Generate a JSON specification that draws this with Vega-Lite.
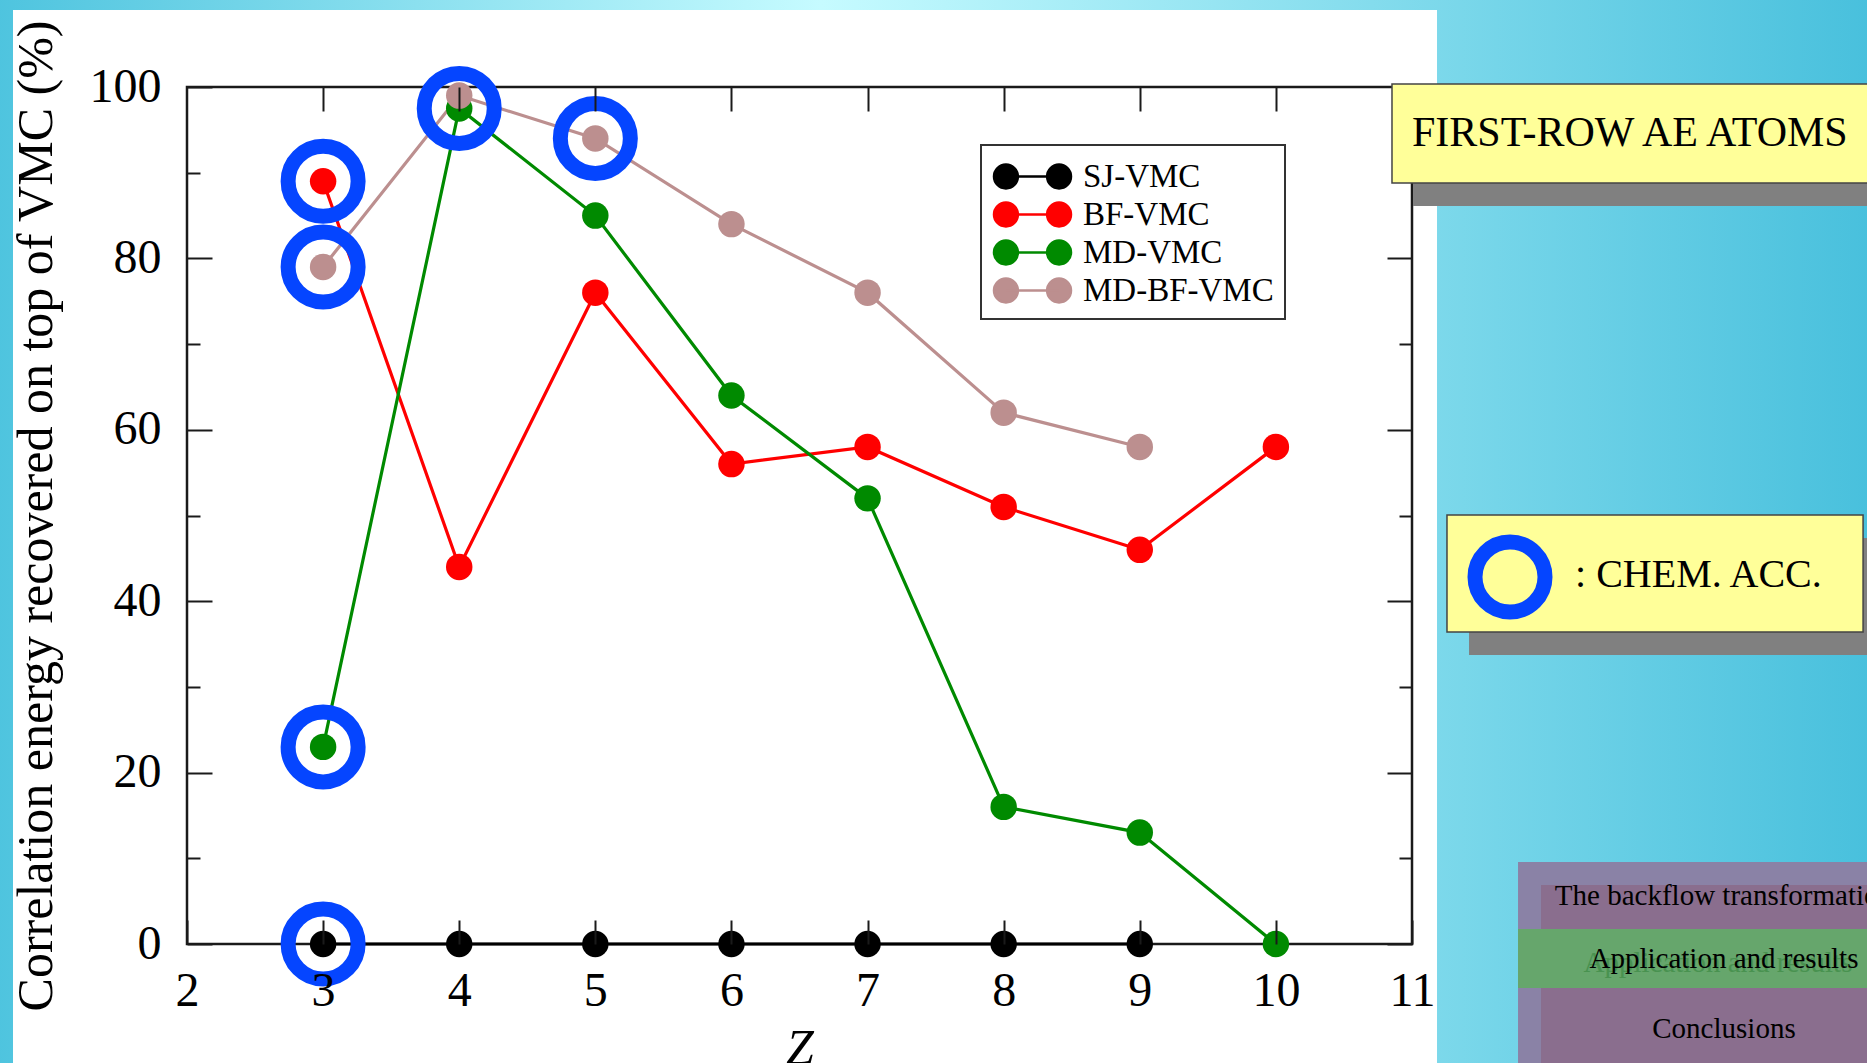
{
  "$schema": "https://vega.github.io/schema/vega-lite/v6.json",
  "width": 1225,
  "height": 857,
  "autosize": {"type": "none"},
  "padding": {"left": 187, "top": 87, "right": 455, "bottom": 119},
  "background": "#7fdcee",
  "config": {
    "view": {"stroke": null},
    "font": "Liberation Serif",
    "legend": {
      "orient": "none",
      "legendX": 794,
      "legendY": 58,
      "title": null,
      "strokeColor": "#333333",
      "fillColor": "#ffffff",
      "padding": 11,
      "labelFont": "Liberation Serif",
      "labelFontSize": 33,
      "labelColor": "#000000",
      "labelOffset": 30,
      "labelLimit": 400,
      "rowPadding": -8,
      "symbolOffset": 20,
      "symbolType": "M-2,0A0.62,0.62,0,1,1,-0.76,0A0.62,0.62,0,1,1,-2,0ZM0.76,0A0.62,0.62,0,1,1,2,0A0.62,0.62,0,1,1,0.76,0ZM-1.38,0L1.38,0",
      "symbolSize": 1482,
      "symbolStrokeWidth": 2.5
    }
  },
  "resolve": {"axis": {"x": "independent", "y": "independent"}},
  "layer": [
    {
      "data": {"values": [{}]},
      "mark": {"type": "rect", "fill": {"gradient": "linear", "x1": 0, "y1": 0, "x2": 1, "y2": 0, "stops": [{"offset": 0, "color": "#4cc3de"}, {"offset": 0.44, "color": "#c6fbff"}, {"offset": 1, "color": "#46bfdc"}]}},
      "encoding": {
        "x": {"datum": 0.5, "type": "quantitative", "scale": {"domain": [2, 11], "nice": false, "zero": false}, "axis": null},
        "x2": {"datum": 14.5},
        "y": {"datum": -16, "type": "quantitative", "scale": {"domain": [0, 100], "nice": false}, "axis": null},
        "y2": {"datum": 112}
      }
    },
    {
      "data": {"values": [{}]},
      "mark": {"type": "rect", "fill": "#ffffff"},
      "encoding": {
        "x": {"datum": 0.7216, "type": "quantitative", "axis": null},
        "x2": {"datum": 11.1838},
        "y": {"datum": -16, "type": "quantitative", "axis": null},
        "y2": {"datum": 108.99}
      }
    },
    {
      "data": {"values": [{}]},
      "mark": {"type": "rect", "filled": false, "stroke": "#1a1a1a", "strokeWidth": 2.5},
      "encoding": {
        "x": {"datum": 2, "type": "quantitative", "axis": null},
        "x2": {"datum": 11},
        "y": {"datum": 0, "type": "quantitative", "axis": null},
        "y2": {"datum": 100}
      }
    },
    {
      "data": {"name": "main"},
      "mark": {"type": "line", "strokeWidth": 3.2},
      "encoding": {
        "x": {
          "field": "Z", "type": "quantitative",
          "axis": {
            "orient": "bottom", "values": [2, 3, 4, 5, 6, 7, 8, 9, 10, 11], "format": "d",
            "title": "Z", "titleFont": "Liberation Serif", "titleFontSize": 50, "titleFontStyle": "italic", "titleFontWeight": "normal", "titleColor": "#000000", "titlePadding": 8,
            "labelFont": "Liberation Serif", "labelFontSize": 48, "labelColor": "#000000", "labelPadding": 47, "labelFlush": false, "labelOverlap": false,
            "tickSize": -24, "tickColor": "#1a1a1a", "tickWidth": 2, "domain": false, "grid": false, "zindex": 1
          }
        },
        "y": {
          "field": "recovered", "type": "quantitative",
          "axis": {
            "orient": "left", "values": [0, 10, 20, 30, 40, 50, 60, 70, 80, 90, 100], "format": "d",
            "labelExpr": "datum.value % 20 === 0 ? datum.label : ''",
            "title": "Correlation energy recovered on top of VMC (%)", "titleFont": "Liberation Serif", "titleFontSize": 50, "titleFontWeight": "normal", "titleColor": "#000000", "titlePadding": 28,
            "labelFont": "Liberation Serif", "labelFontSize": 48, "labelColor": "#000000", "labelPadding": 51, "labelFlush": false, "labelOverlap": false,
            "tickSize": {"condition": {"test": "datum.value % 20 === 0", "value": -25}, "value": -13},
            "tickColor": "#1a1a1a", "tickWidth": 2, "domain": false, "grid": false, "zindex": 1
          }
        },
        "color": {
          "field": "series", "type": "nominal",
          "scale": {"domain": ["SJ-VMC", "BF-VMC", "MD-VMC", "MD-BF-VMC"], "range": ["#000000", "#ff0000", "#008a00", "#bc8f8f"]},
          "legend": {"encode": {"symbols": {"update": {"fill": {"signal": "scale('color', datum.value)"}, "stroke": {"signal": "scale('color', datum.value)"}, "opacity": {"value": 1}}}, "legend": {"update": {"strokeWidth": {"value": 2}}}}}
        }
      }
    },
    {
      "data": {"name": "main"},
      "mark": {"type": "point", "filled": true, "shape": "circle", "size": 700, "opacity": 1},
      "encoding": {
        "x": {
          "field": "Z", "type": "quantitative",
          "axis": {"orient": "top", "values": [3, 4, 5, 6, 7, 8, 9, 10], "labels": false, "title": null, "tickSize": -24, "tickColor": "#1a1a1a", "tickWidth": 2, "domain": false, "grid": false, "zindex": 1}
        },
        "y": {
          "field": "recovered", "type": "quantitative",
          "axis": {"orient": "right", "values": [0, 10, 20, 30, 40, 50, 60, 70, 80], "labels": false, "title": null,
            "tickSize": {"condition": {"test": "datum.value % 20 === 0", "value": -25}, "value": -13},
            "tickColor": "#1a1a1a", "tickWidth": 2, "domain": false, "grid": false, "zindex": 1}
        },
        "color": {
          "field": "series", "type": "nominal",
          "legend": {"encode": {"symbols": {"update": {"fill": {"signal": "scale('color', datum.value)"}, "stroke": {"signal": "scale('color', datum.value)"}, "opacity": {"value": 1}}}, "legend": {"update": {"strokeWidth": {"value": 2}}}}}
        }
      }
    },
    {
      "data": {"name": "main"},
      "transform": [{"filter": "datum.chem_acc"}],
      "mark": {"type": "point", "filled": false, "shape": "circle", "size": 4900, "stroke": "#0545ff", "strokeWidth": 15, "opacity": 1},
      "encoding": {
        "x": {"field": "Z", "type": "quantitative", "axis": null},
        "y": {"field": "recovered", "type": "quantitative", "axis": null}
      }
    },
    {
      "data": {"values": [{}]},
      "mark": {"type": "rect", "fill": "#808080"},
      "encoding": {
        "x": {"datum": 11.0075, "type": "quantitative", "axis": null},
        "x2": {"datum": 14.585},
        "y": {"datum": 97.67, "type": "quantitative", "axis": null},
        "y2": {"datum": 86.11}
      }
    },
    {
      "data": {"values": [{}]},
      "mark": {"type": "rect", "fill": "#ffff99", "stroke": "#444444", "strokeWidth": 1.5},
      "encoding": {
        "x": {"datum": 10.853, "type": "quantitative", "axis": null},
        "x2": {"datum": 14.585},
        "y": {"datum": 100.35, "type": "quantitative", "axis": null},
        "y2": {"datum": 88.8}
      }
    },
    {
      "data": {"values": [{}]},
      "mark": {"type": "text", "text": "FIRST-ROW AE ATOMS", "font": "Liberation Serif", "fontSize": 42, "color": "#000000", "align": "left", "baseline": "alphabetic"},
      "encoding": {
        "x": {"datum": 11.0, "type": "quantitative", "axis": null},
        "y": {"datum": 93.11, "type": "quantitative", "axis": null}
      }
    },
    {
      "data": {"values": [{}]},
      "mark": {"type": "rect", "fill": "#808080"},
      "encoding": {
        "x": {"datum": 11.419, "type": "quantitative", "axis": null},
        "x2": {"datum": 14.475},
        "y": {"datum": 47.37, "type": "quantitative", "axis": null},
        "y2": {"datum": 33.72}
      }
    },
    {
      "data": {"values": [{}]},
      "mark": {"type": "rect", "fill": "#ffff99", "stroke": "#444444", "strokeWidth": 1.5},
      "encoding": {
        "x": {"datum": 11.257, "type": "quantitative", "axis": null},
        "x2": {"datum": 14.314},
        "y": {"datum": 50.06, "type": "quantitative", "axis": null},
        "y2": {"datum": 36.41}
      }
    },
    {
      "data": {"values": [{}]},
      "mark": {"type": "point", "filled": false, "shape": "circle", "size": 4900, "stroke": "#0545ff", "strokeWidth": 15, "opacity": 1},
      "encoding": {
        "x": {"datum": 11.72, "type": "quantitative", "axis": null},
        "y": {"datum": 42.82, "type": "quantitative", "axis": null}
      }
    },
    {
      "data": {"values": [{}]},
      "mark": {"type": "text", "text": ": CHEM. ACC.", "font": "Liberation Serif", "fontSize": 40, "color": "#000000", "align": "left", "baseline": "alphabetic"},
      "encoding": {
        "x": {"datum": 12.198, "type": "quantitative", "axis": null},
        "y": {"datum": 41.66, "type": "quantitative", "axis": null}
      }
    },
    {
      "data": {"values": [{}]},
      "mark": {"type": "rect", "fill": "#8a82a6"},
      "encoding": {
        "x": {"datum": 11.779, "type": "quantitative", "axis": null},
        "x2": {"datum": 14.585},
        "y": {"datum": 9.57, "type": "quantitative", "axis": null},
        "y2": {"datum": -16}
      }
    },
    {
      "data": {"values": [{}]},
      "mark": {"type": "rect", "fill": "#8a6e8e"},
      "encoding": {
        "x": {"datum": 11.948, "type": "quantitative", "axis": null},
        "x2": {"datum": 14.585},
        "y": {"datum": 6.88, "type": "quantitative", "axis": null},
        "y2": {"datum": -16}
      }
    },
    {
      "data": {"values": [{}]},
      "mark": {"type": "rect", "fill": "#66a66c"},
      "encoding": {
        "x": {"datum": 11.779, "type": "quantitative", "axis": null},
        "x2": {"datum": 14.585},
        "y": {"datum": 1.75, "type": "quantitative", "axis": null},
        "y2": {"datum": -5.13}
      }
    },
    {
      "data": {"values": [{}]},
      "mark": {"type": "text", "text": "The backflow transformation", "font": "Liberation Serif", "fontSize": 29, "color": "#000000", "align": "center", "baseline": "alphabetic"},
      "encoding": {
        "x": {"datum": 13.292, "type": "quantitative", "axis": null},
        "y": {"datum": 4.55, "type": "quantitative", "axis": null}
      }
    },
    {
      "data": {"values": [{}]},
      "mark": {"type": "text", "text": "Application and results", "font": "Liberation Serif", "fontSize": 29, "color": "#3d8a45", "opacity": 0.7, "align": "center", "baseline": "alphabetic", "dx": -6, "dy": 4},
      "encoding": {
        "x": {"datum": 13.292, "type": "quantitative", "axis": null},
        "y": {"datum": -2.8, "type": "quantitative", "axis": null}
      }
    },
    {
      "data": {"values": [{}]},
      "mark": {"type": "text", "text": "Application and results", "font": "Liberation Serif", "fontSize": 29, "color": "#000000", "align": "center", "baseline": "alphabetic"},
      "encoding": {
        "x": {"datum": 13.292, "type": "quantitative", "axis": null},
        "y": {"datum": -2.8, "type": "quantitative", "axis": null}
      }
    },
    {
      "data": {"values": [{}]},
      "mark": {"type": "text", "text": "Conclusions", "font": "Liberation Serif", "fontSize": 29, "color": "#000000", "align": "center", "baseline": "alphabetic"},
      "encoding": {
        "x": {"datum": 13.292, "type": "quantitative", "axis": null},
        "y": {"datum": -10.97, "type": "quantitative", "axis": null}
      }
    }
  ],
  "datasets": {
    "main": [
      {"Z": 3, "series": "SJ-VMC", "recovered": 0, "chem_acc": true},
      {"Z": 4, "series": "SJ-VMC", "recovered": 0, "chem_acc": false},
      {"Z": 5, "series": "SJ-VMC", "recovered": 0, "chem_acc": false},
      {"Z": 6, "series": "SJ-VMC", "recovered": 0, "chem_acc": false},
      {"Z": 7, "series": "SJ-VMC", "recovered": 0, "chem_acc": false},
      {"Z": 8, "series": "SJ-VMC", "recovered": 0, "chem_acc": false},
      {"Z": 9, "series": "SJ-VMC", "recovered": 0, "chem_acc": false},
      {"Z": 3, "series": "BF-VMC", "recovered": 89, "chem_acc": true},
      {"Z": 4, "series": "BF-VMC", "recovered": 44, "chem_acc": false},
      {"Z": 5, "series": "BF-VMC", "recovered": 76, "chem_acc": false},
      {"Z": 6, "series": "BF-VMC", "recovered": 56, "chem_acc": false},
      {"Z": 7, "series": "BF-VMC", "recovered": 58, "chem_acc": false},
      {"Z": 8, "series": "BF-VMC", "recovered": 51, "chem_acc": false},
      {"Z": 9, "series": "BF-VMC", "recovered": 46, "chem_acc": false},
      {"Z": 10, "series": "BF-VMC", "recovered": 58, "chem_acc": false},
      {"Z": 3, "series": "MD-VMC", "recovered": 23, "chem_acc": true},
      {"Z": 4, "series": "MD-VMC", "recovered": 97.5, "chem_acc": true},
      {"Z": 5, "series": "MD-VMC", "recovered": 85, "chem_acc": false},
      {"Z": 6, "series": "MD-VMC", "recovered": 64, "chem_acc": false},
      {"Z": 7, "series": "MD-VMC", "recovered": 52, "chem_acc": false},
      {"Z": 8, "series": "MD-VMC", "recovered": 16, "chem_acc": false},
      {"Z": 9, "series": "MD-VMC", "recovered": 13, "chem_acc": false},
      {"Z": 10, "series": "MD-VMC", "recovered": 0, "chem_acc": false},
      {"Z": 3, "series": "MD-BF-VMC", "recovered": 79, "chem_acc": true},
      {"Z": 4, "series": "MD-BF-VMC", "recovered": 99, "chem_acc": false},
      {"Z": 5, "series": "MD-BF-VMC", "recovered": 94, "chem_acc": true},
      {"Z": 6, "series": "MD-BF-VMC", "recovered": 84, "chem_acc": false},
      {"Z": 7, "series": "MD-BF-VMC", "recovered": 76, "chem_acc": false},
      {"Z": 8, "series": "MD-BF-VMC", "recovered": 62, "chem_acc": false},
      {"Z": 9, "series": "MD-BF-VMC", "recovered": 58, "chem_acc": false}
    ]
  }
}
